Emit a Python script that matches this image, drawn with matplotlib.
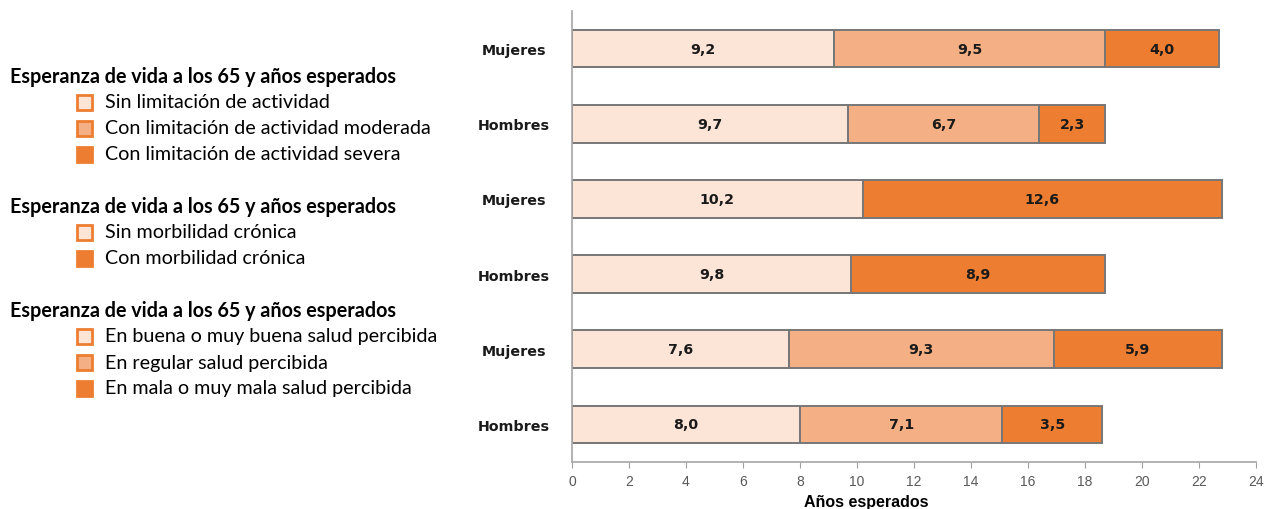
import matplotlib
matplotlib.use("Agg")
import matplotlib.pyplot as plt
from matplotlib.patches import Rectangle

# Years expected at 65, by sex, split by each health indicator
sexos = ["Mujeres", "Hombres"]

actividad_sin = [9.2, 9.7]
actividad_moderada = [9.5, 6.7]
actividad_severa = [4.0, 2.3]

morbilidad_sin = [10.2, 9.8]
morbilidad_con = [12.6, 8.9]

salud_buena = [7.6, 8.0]
salud_regular = [9.3, 7.1]
salud_mala = [5.9, 3.5]

legend_title = "Esperanza de vida a los 65 y años esperados"
legend_actividad = ["Sin limitación de actividad",
                    "Con limitación de actividad moderada",
                    "Con limitación de actividad severa"]
legend_morbilidad = ["Sin morbilidad crónica", "Con morbilidad crónica"]
legend_salud = ["En buena o muy buena salud percibida",
                "En regular salud percibida",
                "En mala o muy mala salud percibida"]

c_light = "#FCE4D6"
c_mid = "#F4B084"
c_dark = "#ED7D31"
c_edge = "#777777"

W, H = 1267, 510
fig = plt.figure(figsize=(W / 100, H / 100), dpi=100)
ax = fig.add_axes([572 / W, 1 - 463 / H, 684 / W, 451 / H])

# Rows from top to bottom: one stacked bar per sex and indicator
rows = [
    [(actividad_sin[0], c_light), (actividad_moderada[0], c_mid), (actividad_severa[0], c_dark)],
    [(actividad_sin[1], c_light), (actividad_moderada[1], c_mid), (actividad_severa[1], c_dark)],
    [(morbilidad_sin[0], c_light), (morbilidad_con[0], c_dark)],
    [(morbilidad_sin[1], c_light), (morbilidad_con[1], c_dark)],
    [(salud_buena[0], c_light), (salud_regular[0], c_mid), (salud_mala[0], c_dark)],
    [(salud_buena[1], c_light), (salud_regular[1], c_mid), (salud_mala[1], c_dark)],
]

for i, segs in enumerate(rows):
    left = 0
    for val, col in segs:
        bars = ax.barh(i, val, left=left, height=0.5, color=col,
                       edgecolor=c_edge, linewidth=1.4)
        ax.bar_label(bars, labels=[f"{val:.1f}".replace(".", ",")],
                     label_type="center", fontsize=10.2, fontweight="bold",
                     family="DejaVu Sans", color="#1a1a1a")
        left += val

ax.set_ylim(5.5, -0.5)
ax.set_xlim(0, 24)
ax.set_xticks(range(0, 25, 2))
ax.set_yticks(range(6))
ax.set_yticklabels(sexos * 3, fontsize=10.3, fontweight="bold",
                   family="DejaVu Sans", color="#1a1a1a")
for lbl in ax.get_yticklabels():
    lbl.set_horizontalalignment("center")
ax.tick_params(axis="y", length=0, pad=42)
ax.tick_params(axis="x", length=4, color="#A0A0A0", labelsize=10,
               labelcolor="#595959", pad=5)
for lbl in ax.get_xticklabels():
    lbl.set_family(["Liberation Sans Narrow", "Liberation Sans"])
    lbl.set_fontstretch("condensed")

for side in ["top", "right"]:
    ax.spines[side].set_visible(False)
for side in ["left", "bottom"]:
    ax.spines[side].set_color("#A6A6A6")
    ax.spines[side].set_linewidth(1.2)

ax.set_xlabel("Años esperados", fontsize=11.5, fontweight="bold",
              family="Liberation Sans", labelpad=9)
ax.xaxis.set_label_coords((866 - 572) / 684, -0.07)


# Left-hand legend drawn as figure text with coloured squares
def legend_block(y_title, entries, colors):
    fig.text(10 / W, 1 - y_title / H, legend_title, fontsize=14.2,
             fontweight="bold", family="Lato", va="center", ha="left")
    for k, (txt, col) in enumerate(zip(entries, colors)):
        yc = y_title + 26 * (k + 1)
        fig.add_artist(Rectangle((77 / W, 1 - (yc + 8) / H), 15 / W, 15 / H,
                                 transform=fig.transFigure, facecolor=col,
                                 edgecolor=c_dark, linewidth=2))
        fig.text(105 / W, 1 - yc / H, txt, fontsize=14.2, family="Lato",
                 va="center", ha="left")


legend_block(77, legend_actividad, [c_light, c_mid, c_dark])
legend_block(207, legend_morbilidad, [c_light, c_dark])
legend_block(311, legend_salud, [c_light, c_mid, c_dark])

fig.savefig("out.png", dpi=100)
